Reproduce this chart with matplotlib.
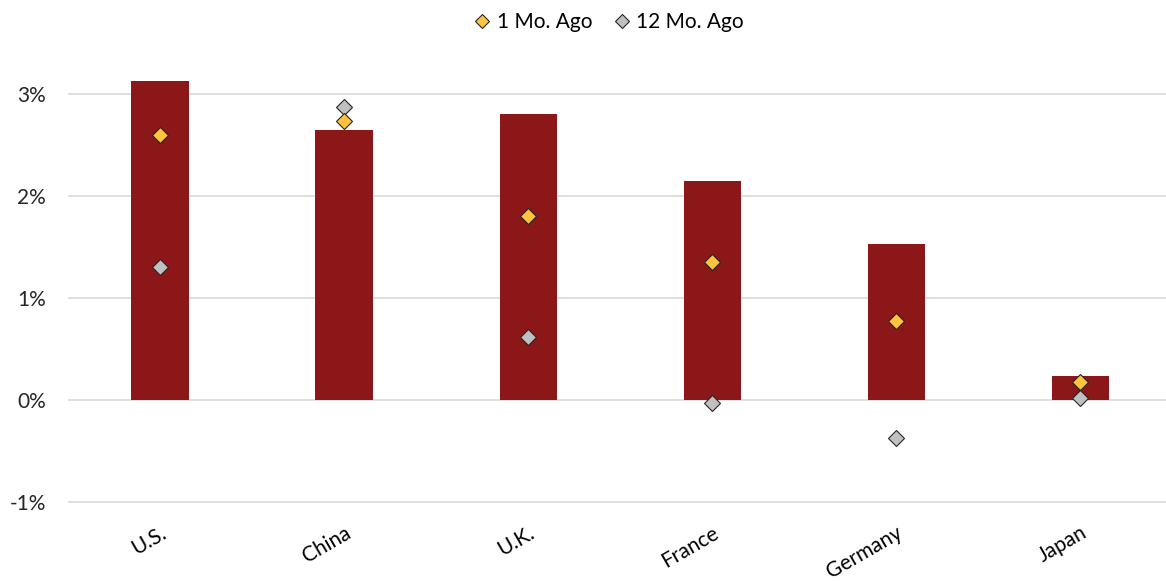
import matplotlib
matplotlib.use("Agg")
import matplotlib.pyplot as plt
from matplotlib.lines import Line2D
from matplotlib.ticker import FuncFormatter

COUNTRIES = ["U.S.", "China", "U.K.", "France", "Germany", "Japan"]
CURRENT = [3.13, 2.65, 2.80, 2.15, 1.53, 0.23]
MO1_AGO = [2.60, 2.74, 1.80, 1.35, 0.77, 0.18]
MO12_AGO = [1.30, 2.87, 0.62, -0.03, -0.37, 0.02]

BAR_C, YEL_C, GRY_C = "#8b1719", "#ffc33f", "#c0c0c0"
EDGE, INK, GRID = "#262626", "#262626", "#d9d9d9"

plt.rcParams["font.family"] = ["Lato", "DejaVu Sans"]

fig = plt.figure(figsize=(11.66, 5.81), dpi=100)
ax = fig.add_axes([68 / 1166, 1 - 510 / 581, 1 - 68 / 1166, (510 - 41) / 581])

x = range(len(COUNTRIES))
ax.bar(x, CURRENT, width=0.31, color=BAR_C, zorder=2)
ax.plot(x, MO1_AGO, ls="none", marker="D", ms=8.5, color=YEL_C, mec=EDGE, mew=0.8, zorder=4)
ax.plot(x, MO12_AGO, ls="none", marker="D", ms=8.5, color=GRY_C, mec=EDGE, mew=0.8, zorder=3)

ax.set_xlim(-0.5, 5.467)
ax.set_ylim(-1.08, 3.52)
ax.set_yticks([-1, 0, 1, 2, 3])
ax.yaxis.set_major_formatter(FuncFormatter(lambda v, p: f"{v:.0f}%"))
ax.grid(axis="y", color=GRID, lw=1.2, zorder=0)
ax.set_axisbelow(True)
for s in ax.spines.values():
    s.set_visible(False)
ax.tick_params(axis="y", length=0, pad=16, labelsize=15, labelcolor=INK)
ax.tick_params(axis="x", length=0, pad=9)
ax.set_xticks(list(x))
ax.set_xticklabels(COUNTRIES, rotation=30, ha="right", va="top", rotation_mode="anchor",
                   fontsize=15, color="black")

handles = [
    Line2D([], [], ls="none", marker="D", ms=7.5, color=YEL_C, mec=EDGE, mew=0.8, label="1 Mo. Ago"),
    Line2D([], [], ls="none", marker="D", ms=7.5, color=GRY_C, mec=EDGE, mew=0.8, label="12 Mo. Ago"),
]
fig.legend(handles=handles, loc="center", bbox_to_anchor=(609 / 1166, 1 - 22 / 581), ncol=2,
           frameon=False, fontsize=15, handlelength=0.8, handletextpad=0.3, columnspacing=1.0)

fig.savefig("out.png", dpi=100, facecolor="white")
